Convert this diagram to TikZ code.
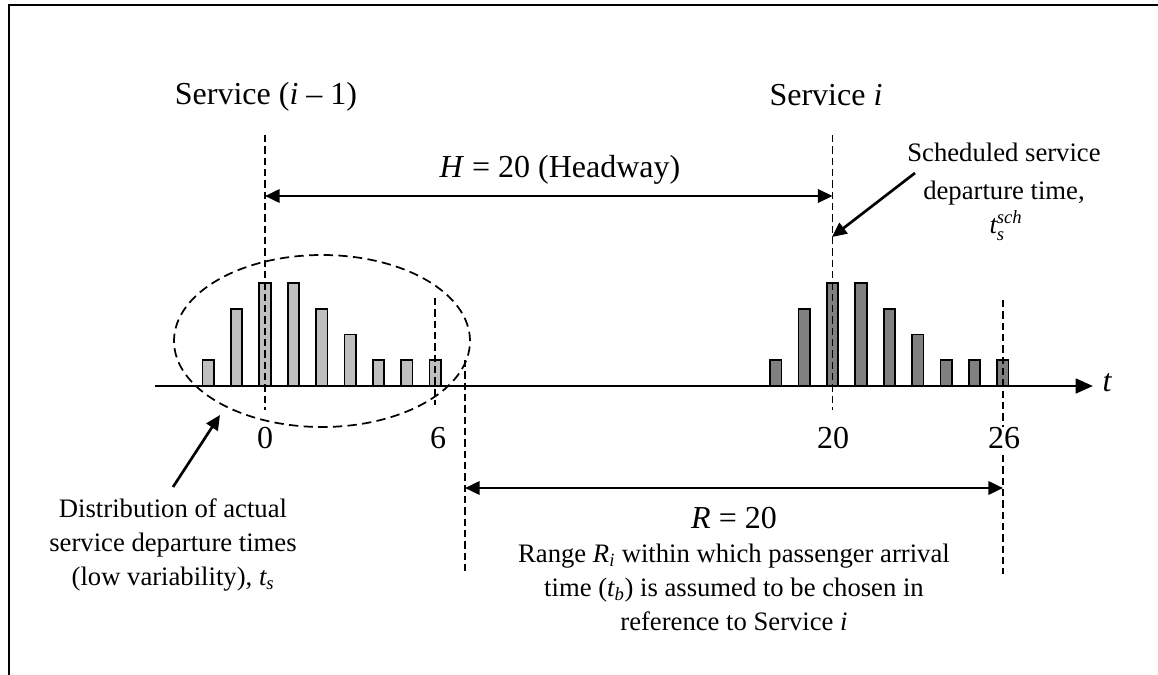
\documentclass[tikz,border=0pt]{standalone}
\usepackage{amsmath}
\usepackage{fontspec}
\setmainfont{Liberation Serif}
\usetikzlibrary{arrows.meta}
\begin{document}
\begin{tikzpicture}[x=0.75pt,y=-0.75pt,
  bigtxt/.style={font=\fontsize{24}{28}\selectfont, inner sep=0pt},
  smalltxt/.style={font=\fontsize{20}{25.5}\selectfont, align=center, inner sep=0pt},
  guide/.style={line width=1.3pt, dash pattern=on 5.5pt off 3pt},
  dimarrow/.style={line width=2pt, {Triangle[length=11pt,width=10pt]}-{Triangle[length=11pt,width=10pt]}},
  pointer/.style={line width=2pt, -{Triangle[length=11pt,width=10pt]}},
  barA/.style={draw=black, line width=1.3pt, fill=black!25},
  barB/.style={draw=black, line width=1.3pt, fill=black!50},
]
\useasboundingbox (0,0) rectangle (1158,675);
% frame
\draw[line width=1.6pt] (9,680) -- (9,5) -- (1165,5);

% bars
\foreach \u/\h in {-2/1,-1/3,0/4,1/4,2/3,3/2,4/1,5/1,6/1}{
  \draw[barA] ({265+28.38*\u-5.7},386) rectangle ({265+28.38*\u+5.7},{386-25.7*\h});
}
\foreach \u/\h in {18/1,19/3,20/4,21/4,22/3,23/2,24/1,25/1,26/1}{
  \draw[barB] ({265+28.38*\u-5.7},386) rectangle ({265+28.38*\u+5.7},{386-25.7*\h});
}

% axis
\coordinate (axL) at (155,386);
\coordinate (axR) at (1093,386);
\draw[line width=2pt, -{Triangle[length=13pt,width=11pt]}] (axL) -- (axR);
\node[bigtxt, font=\fontsize{24}{28}\selectfont\itshape] (tlab) at (1107,383) {t};

% tick labels
\node[bigtxt] (l0) at (265,438) {0};
\node[bigtxt] (l6) at (438,438) {6};
\node[bigtxt] (l20) at (833,438) {20};
\node[bigtxt] (l26) at (1004,438) {26};

% dashed guides
\coordinate (g0t) at (265,135);   \coordinate (g0b) at (265,410);
\coordinate (g20t) at (832.6,135); \coordinate (g20b) at (832.6,410);
\coordinate (g6t) at (435.3,298); \coordinate (g6b) at (435.3,405);
\coordinate (g7t) at (465,360);   \coordinate (g7b) at (465,574);
\coordinate (g26t) at (1003,300);
\draw[guide] (g0t) -- (g0b);
\draw[guide] (g20t) -- (g20b);
\draw[guide] (g6t) -- (g6b);
\draw[guide] (g7t) -- (g7b);
\draw[guide] (g26t) -- (l26.north -| g26t);
\draw[guide] (l26.south -| g26t) ++(0,6) -- (1003,574);

% ellipse
\draw[line width=1.3pt, dash pattern=on 7pt off 4pt] (322,341) ellipse [x radius=111pt, y radius=64.5pt];

% service labels
\node[bigtxt] (s1) at (266,97) {Service (\textit{i} – 1)};
\node[bigtxt] (s2) at (826,95) {Service \textit{i}};

% headway
\coordinate (hL) at (265,196);
\coordinate (hR) at (832.6,196);
\draw[dimarrow] (hL) -- (hR);
\node[bigtxt] (hlab) at (560,170) {\textit{H} = 20 (Headway)};

% range
\coordinate (rL) at (465,488);
\coordinate (rR) at (1003,488);
\draw[dimarrow] (rL) -- (rR);
\node[bigtxt] (rlab) at (734,518) {\textit{R} = 20};
\node[smalltxt] (rtxt) at (734,587) {Range $\textit{R}_{\textit{i}}$ within which passenger arrival\\time ($\textit{t}_{\textit{b}}$) is assumed to be chosen in\\reference to Service \textit{i}};

% scheduled
\node[smalltxt, font=\fontsize{20}{28.5}\selectfont] (sch) at (1004,174) {Scheduled service\\departure time,};
\node[smalltxt] (tsch) at (1006,226) {$\textit{t}_{\textit{s}}^{\textit{sch}}$};
\coordinate (schA) at (915,173);
\coordinate (schB) at (832,237);
\draw[pointer] (schA) -- (schB);

% distribution
\node[smalltxt] (dist) at (173,545) {Distribution of actual\\service departure times\\(low variability), $\textit{t}_{\textit{s}}$};
\coordinate (dA) at (173,487);
\coordinate (dB) at (220,415);
\draw[pointer] (dA) -- (dB);
\end{tikzpicture}
\end{document}
